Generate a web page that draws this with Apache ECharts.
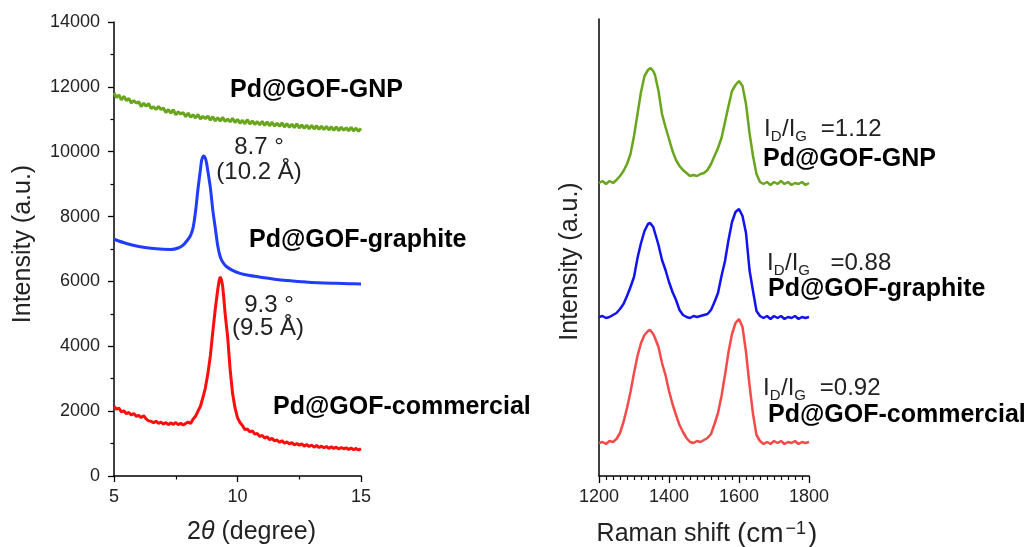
<!DOCTYPE html>
<html>
<head>
<meta charset="utf-8">
<script src="https://cdn.jsdelivr.net/npm/echarts@6/dist/echarts.min.js"></script>
<style>html,body{margin:0;padding:0;background:#fff}#c{width:1027px;height:547px}</style>
</head>
<body>
<div id="c"></div>
<script>
// ---------- XRD (left panel): [2theta, intensity] ----------
const xrdGNP = [[5.0,11810],[5.1,11670],[5.2,11750],[5.3,11600],[5.4,11710],[5.5,11580],[5.6,11640],[5.7,11500],[5.8,11580],[5.9,11500],[6.0,11540],[6.1,11390],[6.2,11500],[6.3,11400],[6.4,11490],[6.5,11330],[6.6,11390],[6.7,11300],[6.8,11400],[6.9,11300],[7.0,11350],[7.1,11210],[7.2,11300],[7.3,11190],[7.4,11300],[7.5,11140],[7.6,11230],[7.7,11160],[7.8,11210],[7.9,11080],[8.0,11190],[8.1,11060],[8.2,11140],[8.3,11040],[8.4,11150],[8.5,11010],[8.6,11090],[8.7,11020],[8.8,11100],[8.9,10970],[9.0,11080],[9.1,10950],[9.2,11050],[9.3,10940],[9.4,11060],[9.5,10930],[9.6,11010],[9.7,10920],[9.8,11030],[9.9,10900],[10.0,11000],[10.1,10880],[10.2,10970],[10.3,10860],[10.4,10990],[10.5,10850],[10.6,10950],[10.7,10840],[10.8,10930],[10.9,10830],[11.0,10940],[11.1,10810],[11.2,10920],[11.3,10800],[11.4,10910],[11.5,10790],[11.6,10880],[11.7,10780],[11.8,10890],[11.9,10760],[12.0,10870],[12.1,10750],[12.2,10850],[12.3,10740],[12.4,10860],[12.5,10730],[12.6,10830],[12.7,10720],[12.8,10820],[12.9,10700],[13.0,10810],[13.1,10700],[13.2,10800],[13.3,10690],[13.4,10790],[13.5,10680],[13.6,10780],[13.7,10670],[13.8,10770],[13.9,10660],[14.0,10770],[14.1,10650],[14.2,10760],[14.3,10660],[14.4,10740],[14.5,10640],[14.6,10750],[14.7,10640],[14.8,10730],[14.9,10630],[15.0,10720]];

const xrdGraphite = [[5.0,7300],[5.5,7170],[6.0,7080],[6.5,7020],[7.0,6990],[7.3,6985],[7.6,7030],[7.8,7120],[8.0,7300],[8.1,7420],[8.2,7650],[8.3,8150],[8.4,8850],[8.5,9450],[8.55,9740],[8.63,9870],[8.7,9800],[8.75,9640],[8.8,9400],[8.9,8900],[9.0,8200],[9.1,7650],[9.2,7100],[9.3,6760],[9.4,6600],[9.55,6460],[9.8,6340],[10.1,6250],[10.5,6180],[11.0,6120],[11.5,6070],[12.0,6030],[12.5,6000],[13.0,5970],[13.5,5950],[14.0,5940],[14.5,5930],[15.0,5920]];

const xrdCommercial = [[5.0,2150],[5.1,2060],[5.2,2090],[5.3,1980],[5.4,2010],[5.5,1920],[5.6,1960],[5.7,1880],[5.8,1930],[5.9,1840],[6.0,1870],[6.1,1800],[6.2,1860],[6.3,1760],[6.4,1700],[6.5,1690],[6.6,1640],[6.7,1690],[6.8,1620],[6.9,1660],[7.0,1600],[7.1,1650],[7.2,1580],[7.3,1640],[7.4,1590],[7.5,1650],[7.6,1580],[7.7,1630],[7.8,1570],[7.9,1620],[8.0,1660],[8.1,1620],[8.2,1750],[8.3,1840],[8.4,2000],[8.5,2150],[8.6,2420],[8.7,2720],[8.8,3150],[8.9,3700],[9.0,4450],[9.1,5150],[9.2,5750],[9.25,6000],[9.3,6140],[9.35,6050],[9.4,5850],[9.45,5450],[9.5,5000],[9.6,4300],[9.7,3300],[9.8,2550],[9.9,2100],[10.0,1800],[10.1,1650],[10.2,1560],[10.3,1430],[10.4,1450],[10.5,1360],[10.6,1390],[10.7,1290],[10.8,1310],[10.9,1220],[11.0,1250],[11.1,1170],[11.2,1210],[11.3,1120],[11.4,1160],[11.5,1080],[11.6,1110],[11.7,1040],[11.8,1090],[11.9,1010],[12.0,1050],[12.1,990],[12.2,1030],[12.3,960],[12.4,1000],[12.5,950],[12.6,990],[12.7,920],[12.8,970],[12.9,910],[13.0,950],[13.1,890],[13.2,940],[13.3,880],[13.4,920],[13.5,870],[13.6,910],[13.7,850],[13.8,900],[13.9,850],[14.0,890],[14.1,830],[14.2,880],[14.3,840],[14.4,870],[14.5,820],[14.6,860],[14.7,810],[14.8,850],[14.9,800],[15.0,840]];

// ---------- Raman (right panel): [shift cm-1, intensity a.u.] ----------
const ramanGNP = [[1200,293],[1210,295],[1220,292],[1230,295],[1240,293],[1250,296],[1260,300],[1270,305],[1280,312],[1290,322],[1300,340],[1310,362],[1320,384],[1330,400],[1340,406],[1347,408],[1355,405],[1360,401],[1370,385],[1380,362],[1390,349],[1400,337],[1410,325],[1420,316],[1430,310],[1440,306],[1450,303],[1460,300],[1470,301],[1480,300],[1490,302],[1500,303],[1510,306],[1520,312],[1530,320],[1540,328],[1550,338],[1560,354],[1570,370],[1580,385],[1590,391],[1600,395],[1610,390],[1620,372],[1630,343],[1640,320],[1650,302],[1660,294],[1670,292],[1680,294],[1690,291],[1700,294],[1710,292],[1720,295],[1730,292],[1740,294],[1750,291],[1760,293],[1770,292],[1780,294],[1790,291],[1800,293]];

const ramanGraphite = [[1200,159],[1210,160],[1220,158],[1230,159],[1240,161],[1250,163],[1260,167],[1270,172],[1280,180],[1290,189],[1300,199],[1310,218],[1320,233],[1330,245],[1340,252],[1346,253],[1355,249],[1360,243],[1370,231],[1380,216],[1390,206],[1400,194],[1410,184],[1420,176],[1430,166],[1440,161],[1450,159],[1460,158],[1470,160],[1480,159],[1490,160],[1500,161],[1510,162],[1520,166],[1530,174],[1540,183],[1550,200],[1560,215],[1570,236],[1580,254],[1590,264],[1600,267],[1610,260],[1620,243],[1630,206],[1640,185],[1650,165],[1660,160],[1670,158],[1680,160],[1690,157],[1700,160],[1710,158],[1720,160],[1730,157],[1740,159],[1750,158],[1760,160],[1770,157],[1780,159],[1790,158],[1800,159]];

const ramanCommercial = [[1200,33],[1210,34],[1220,32],[1230,35],[1240,34],[1250,37],[1260,43],[1270,54],[1280,68],[1290,84],[1300,103],[1310,120],[1320,133],[1330,141],[1340,145],[1346,146],[1355,142],[1360,138],[1370,129],[1380,113],[1390,101],[1400,85],[1410,72],[1420,61],[1430,51],[1440,44],[1450,38],[1460,34],[1470,33],[1480,35],[1490,34],[1500,36],[1510,38],[1520,42],[1530,52],[1540,63],[1550,80],[1560,101],[1570,124],[1580,142],[1590,153],[1600,157],[1610,149],[1620,124],[1630,91],[1640,62],[1650,41],[1660,35],[1670,32],[1680,34],[1690,32],[1700,35],[1710,33],[1720,35],[1730,32],[1740,34],[1750,33],[1760,35],[1770,32],[1780,34],[1790,33],[1800,34]];

// ---------- texts ----------
const sampleNames = ['Pd@GOF-GNP', 'Pd@GOF-graphite', 'Pd@GOF-commercial'];
const peakLabels = [['8.7 °', '(10.2 Å)'], ['9.3 °', '(9.5 Å)']];
const ratioValues = ['1.12', '0.88', '0.92'];

const FONT = 'Liberation Sans, Arial, sans-serif';
const C_GREEN = '#6aa51e', C_BLUE = '#1f3cff', C_RED = '#ff0d0d';
const C_BLUE_R = '#1212f0', C_RED_R = '#f54a4a';

const axisCommon = {
  axisLine: {show: true, onZero: false, lineStyle: {color: '#000', width: 1.5}},
  axisTick: {show: true, inside: false, length: 6, lineStyle: {color: '#000', width: 1.3}},
  minorTick: {show: true, length: 3.5, lineStyle: {color: '#000', width: 1.2}},
  splitLine: {show: false},
  minorSplitLine: {show: false},
  axisLabel: {fontSize: 18, color: '#222', fontFamily: FONT, formatter: v => String(v)},
  nameTextStyle: {fontSize: 25, color: '#222', fontFamily: FONT}
};
function ax(extra) { return echarts.util.merge(echarts.util.clone(axisCommon), extra, true); }

const measureCtx = document.createElement('canvas').getContext('2d');
function textW(t, font) { measureCtx.font = font; return measureCtx.measureText(t).width; }

const boldStyle = (t, x, y) => ({type: 'text', style: {text: t, x: x, y: y, font: 'bold 25px ' + FONT, fill: '#000', align: 'left', verticalAlign: 'middle'}});
const normStyle = (t, x, y, align) => ({type: 'text', style: {text: t, x: x, y: y, font: '24px ' + FONT, fill: '#222', align: align || 'left', verticalAlign: 'middle'}});
// I_D / I_G = value, built from plain text pieces (subscripts lowered)
function ratioGroup(v, gap, x, y) {
  const fm = '24px ' + FONT, fs = '15px ' + FONT;
  const parts = [['I', fm, 0], ['D', fs, 8], ['/I', fm, 0], ['G', fs, 8], [gap + '=' + v, fm, 0]];
  let cx = 0;
  const children = parts.map(p => {
    const el = {type: 'text', x: cx, y: p[2], style: {text: p[0], font: p[1], fill: '#222', align: 'left', verticalAlign: 'middle'}};
    cx += textW(p[0], p[1]) + (p[1] === fs ? 0.5 : 0);
    return el;
  });
  return {type: 'group', x: x, y: y, children: children};
}

const chart = echarts.init(document.getElementById('c'), null, {renderer: 'canvas'});
chart.setOption({
  animation: false,
  backgroundColor: '#fff',
  grid: [
    {left: 114, top: 22, width: 247, height: 454, outerBoundsMode: 'none'},
    {left: 599, top: 19, width: 210, height: 457, outerBoundsMode: 'none'}
  ],
  xAxis: [
    ax({type: 'value', gridIndex: 0, min: 5, max: 15, interval: 5,
        minorTick: {splitNumber: 2}, axisLabel: {margin: 12},
        name: '2{i|θ} (degree)', nameLocation: 'middle', nameGap: 44,
        nameTextStyle: {padding: [0, 0, 0, 28], rich: {i: {fontStyle: 'italic', fontSize: 25, fontFamily: FONT, color: '#222'}}}}),
    ax({type: 'value', gridIndex: 1, min: 1200, max: 1800, interval: 200,
        minorTick: {splitNumber: 10, length: 4}, axisTick: {length: 7}, axisLabel: {margin: 12},
        name: 'Raman shift {p|(cm}{sup|−1}{p|)}', nameLocation: 'middle', nameGap: 44,
        nameTextStyle: {fontSize: 25, padding: [0, 0, 0, 6], rich: {
          p: {fontSize: 28, fontFamily: FONT, color: '#222'},
          sup: {fontSize: 18, fontFamily: FONT, color: '#222', verticalAlign: 'top', padding: [0, 2, 10, 2]}}}})
  ],
  yAxis: [
    ax({type: 'value', gridIndex: 0, min: 0, max: 14000, interval: 2000,
        minorTick: {splitNumber: 2}, axisLabel: {margin: 14},
        name: 'Intensity (a.u.)', nameLocation: 'middle', nameGap: 78, nameRotate: 90,
        nameTextStyle: {padding: [0, 0, 0, 10]}}),
    ax({type: 'value', gridIndex: 1, min: 0, max: 457,
        axisTick: {show: false}, minorTick: {show: false}, axisLabel: {show: false},
        name: 'Intensity (a.u.)', nameLocation: 'middle', nameGap: 16, nameRotate: 90,
        nameTextStyle: {padding: [0, 28, 0, 0]}})
  ],
  series: [
    {type: 'line', xAxisIndex: 0, yAxisIndex: 0, data: xrdGNP, symbol: 'none', lineStyle: {color: C_GREEN, width: 3}},
    {type: 'line', xAxisIndex: 0, yAxisIndex: 0, data: xrdGraphite, symbol: 'none', smooth: 0.3, lineStyle: {color: C_BLUE, width: 3}},
    {type: 'line', xAxisIndex: 0, yAxisIndex: 0, data: xrdCommercial, symbol: 'none', lineStyle: {color: C_RED, width: 3}},
    {type: 'line', xAxisIndex: 1, yAxisIndex: 1, data: ramanGNP, symbol: 'none', lineStyle: {color: C_GREEN, width: 2.5}},
    {type: 'line', xAxisIndex: 1, yAxisIndex: 1, data: ramanGraphite, symbol: 'none', lineStyle: {color: C_BLUE_R, width: 2.5}},
    {type: 'line', xAxisIndex: 1, yAxisIndex: 1, data: ramanCommercial, symbol: 'none', lineStyle: {color: C_RED_R, width: 2.5}}
  ],
  graphic: [
    boldStyle(sampleNames[0], 230, 90),
    normStyle(peakLabels[0][0], 259, 147, 'center'),
    normStyle(peakLabels[0][1], 259, 172, 'center'),
    boldStyle(sampleNames[1], 249, 240),
    normStyle(peakLabels[1][0], 269, 305, 'center'),
    normStyle(peakLabels[1][1], 268, 328, 'center'),
    boldStyle(sampleNames[2], 273, 407),
    ratioGroup(ratioValues[0], '  ', 764, 129),
    boldStyle(sampleNames[0], 763, 159),
    ratioGroup(ratioValues[1], '   ', 767, 263),
    boldStyle(sampleNames[1], 768, 289),
    ratioGroup(ratioValues[2], '  ', 763, 388),
    boldStyle(sampleNames[2], 768, 415)
  ]
});
</script>
</body>
</html>
